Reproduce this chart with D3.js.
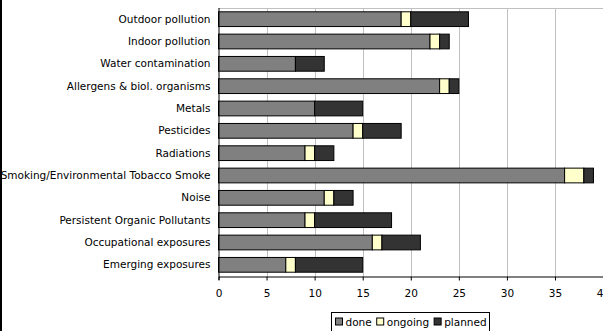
<!DOCTYPE html>
<html>
<head>
<meta charset="utf-8">
<script src="https://cdn.jsdelivr.net/npm/d3@7"></script>
<style>
  body { margin: 0; background: #fff; }
  svg { display: block; font-family: "DejaVu Sans", sans-serif; }
</style>
</head>
<body>
<svg width="603" height="331"></svg>
<script>
// catégories et valeurs
const categories = [
  'Outdoor pollution', 'Indoor pollution', 'Water contamination',
  'Allergens & biol. organisms', 'Metals', 'Pesticides', 'Radiations',
  'Smoking/Environmental Tobacco Smoke', 'Noise',
  'Persistent Organic Pollutants', 'Occupational exposures', 'Emerging exposures'
];
const done    = [19, 22, 8, 23, 10, 14, 9, 36, 11, 9, 16, 7];
const ongoing = [ 1,  1, 0,  1,  0,  1, 1,  2,  1, 1,  1, 1];
const planned = [ 6,  1, 3,  1,  5,  4, 2,  1,  2, 8,  4, 7];
const series = ['done', 'ongoing', 'planned'];
const tickValues = [0, 5, 10, 15, 20, 25, 30, 35, 40];

const couleurs = { done: '#808080', ongoing: '#ffffcc', planned: '#333333' };

const svg = d3.select('svg');
const marge = { left: 218.5, top: 8, right: 603, bottom: 276 };

const x = d3.scaleLinear().domain([0, 40]).range([marge.left, marge.left + 8 * 48.07]);
const y = d3.scaleBand().domain(categories).range([marge.top, marge.bottom]).paddingInner(0.34).paddingOuter(0.17);

const table = categories.map((c, i) => ({ cat: c, done: done[i], ongoing: ongoing[i], planned: planned[i] }));
const pile = d3.stack().keys(series)(table);

// bordure gauche du graphique
svg.append('rect').attr('x', 0).attr('y', 0).attr('width', 2).attr('height', 331).attr('fill', '#000');

// grille verticale
svg.append('g').selectAll('line').data(tickValues.slice(1)).join('line')
  .attr('x1', d => Math.round(x(d)) + 0.5).attr('x2', d => Math.round(x(d)) + 0.5)
  .attr('y1', marge.top).attr('y2', marge.bottom)
  .attr('stroke', '#c0c0c0');
svg.append('line')
  .attr('x1', marge.left).attr('x2', 603).attr('y1', marge.top + 0.5).attr('y2', marge.top + 0.5)
  .attr('stroke', '#c0c0c0');

// barres empilées
svg.append('g').selectAll('g').data(pile).join('g')
  .attr('fill', d => couleurs[d.key])
  .selectAll('rect').data(d => d.filter(p => p[1] > p[0])).join('rect')
  .attr('x', d => x(d[0]))
  .attr('y', d => y(d.data.cat))
  .attr('width', d => x(d[1]) - x(d[0]))
  .attr('height', y.bandwidth())
  .attr('stroke', '#000').attr('stroke-width', 1);

// axe x
const axeX = svg.append('g').attr('transform', `translate(0,${marge.bottom + 0.5})`)
  .call(d3.axisBottom(x).tickValues(tickValues).tickSize(4).tickSizeOuter(0).tickFormat(d3.format('d')));
axeX.select('.domain').attr('stroke', '#000');
axeX.selectAll('.tick line').attr('stroke', '#000');
axeX.selectAll('text').attr('font-size', 10.5).attr('fill', '#000').attr('dy', '1.25em')
  .attr('font-family', '"DejaVu Sans", sans-serif');

// axe y
const axeY = svg.append('g').attr('transform', `translate(${marge.left},0)`)
  .call(d3.axisLeft(y).tickSize(0).tickPadding(8));
axeY.select('.domain').attr('stroke', '#000').attr('d', `M0.5,${marge.top}V${marge.bottom + 4}`);
axeY.selectAll('text').attr('font-size', 10.5).attr('fill', '#000')
  .attr('font-family', '"DejaVu Sans", sans-serif');

// légende
const leg = svg.append('g').attr('transform', 'translate(331.5,312.5)');
leg.append('rect').attr('width', 158).attr('height', 25).attr('fill', '#fff').attr('stroke', '#000');
let dx = 4;
series.forEach(s => {
  leg.append('rect').attr('x', dx).attr('y', 5.5).attr('width', 7).attr('height', 7)
    .attr('fill', couleurs[s]).attr('stroke', '#000');
  const t = leg.append('text').attr('x', dx + 10).attr('y', 13.5).attr('font-size', 10.5).text(s);
  dx += 10 + t.node().getComputedTextLength() + 5;
});
</script>
</body>
</html>
